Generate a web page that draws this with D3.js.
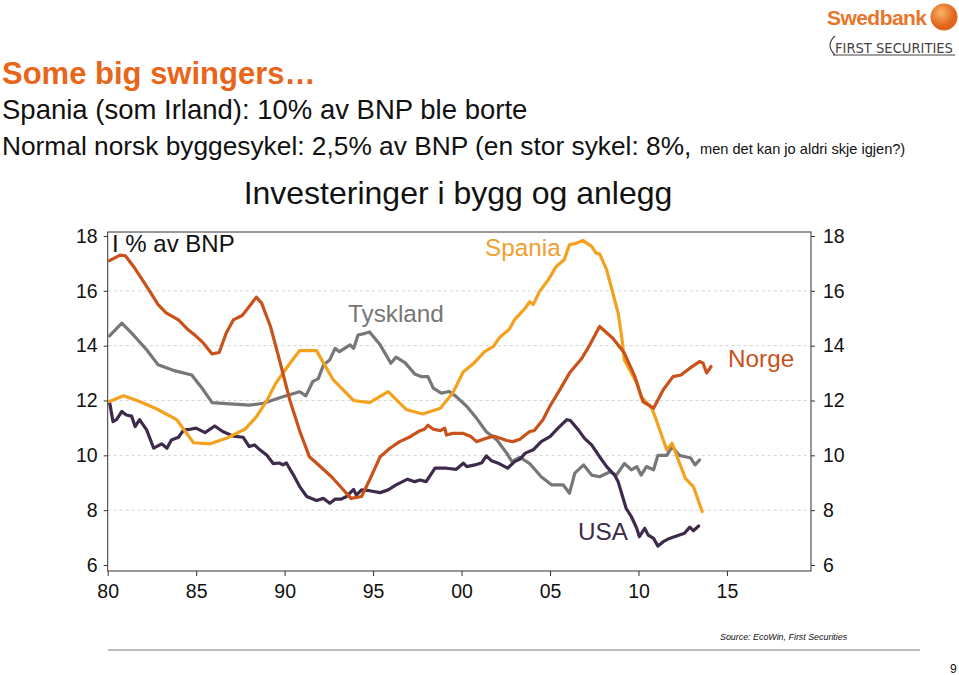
<!DOCTYPE html>
<html><head><meta charset="utf-8">
<script src="https://cdn.jsdelivr.net/npm/d3@7"></script>
<style>body{margin:0;background:#fff;}svg{display:block;font-family:"Liberation Sans",Arial,sans-serif;}</style>
</head><body>
<script>
// ---- data ----
const yTicks = [6, 8, 10, 12, 14, 16, 18];
const gridTicks = [8, 10, 12, 14, 16];
const xTickYears = [1980, 1985, 1990, 1995, 2000, 2005, 2010, 2015];
const xTickLabels = ["80", "85", "90", "95", "00", "05", "10", "15"];

const norge = [[1980.1,17.1],[1980.7,17.3],[1981.0,17.28],[1981.45,16.9],[1982.2,16.16],[1982.85,15.5],[1983.3,15.2],[1984,14.94],[1984.55,14.58],[1984.9,14.4],[1985.4,14.1],[1985.9,13.7],[1986.3,13.75],[1986.7,14.46],[1987.1,14.94],[1987.6,15.1],[1988,15.43],[1988.4,15.77],[1988.7,15.55],[1989.2,14.7],[1989.7,13.5],[1990.3,12.0],[1990.9,10.8],[1991.4,9.95],[1992,9.6],[1992.65,9.22],[1993.1,8.9],[1993.75,8.43],[1994.35,8.5],[1994.8,9.1],[1995.4,9.95],[1995.95,10.26],[1996.5,10.5],[1997.1,10.68],[1997.65,10.9],[1997.9,10.95],[1998.1,11.1],[1998.4,10.95],[1998.8,10.9],[1999.05,10.99],[1999.15,10.74],[1999.5,10.8],[2000.1,10.8],[2000.5,10.7],[2000.85,10.5],[2001.4,10.62],[2001.8,10.7],[2002.2,10.62],[2002.55,10.54],[2002.9,10.5],[2003.3,10.59],[2003.85,10.87],[2004.1,10.9],[2004.6,11.3],[2005,11.8],[2005.55,12.39],[2006.1,13.0],[2006.8,13.54],[2007.25,14.03],[2007.8,14.7],[2008.55,14.27],[2009.2,13.73],[2009.8,12.87],[2010.25,11.96],[2010.85,11.72],[2011.4,12.39],[2011.95,12.87],[2012.4,12.93],[2012.9,13.18],[2013.45,13.42],[2013.65,13.36],[2013.85,13.0],[2014.1,13.24]];

const spania = [[1980.1,11.96],[1980.9,12.17],[1981.8,11.96],[1982.75,11.7],[1983.9,11.3],[1984.85,10.46],[1985.8,10.42],[1986.7,10.62],[1987.75,10.95],[1988.4,11.4],[1989,12.0],[1989.5,12.63],[1990.3,13.36],[1990.85,13.82],[1991.8,13.82],[1992.75,12.75],[1993.9,12.0],[1994.8,11.92],[1995.85,12.32],[1996.9,11.66],[1997.8,11.51],[1998.8,11.72],[1999.5,12.27],[2000.1,13.05],[2000.65,13.33],[2001.3,13.78],[2001.8,13.97],[2002.15,14.3],[2002.7,14.6],[2003.0,14.95],[2003.6,15.37],[2003.85,15.6],[2004.05,15.5],[2004.4,15.97],[2004.9,16.4],[2005.35,16.89],[2005.8,17.13],[2006.1,17.68],[2006.5,17.74],[2006.85,17.84],[2007.35,17.62],[2007.6,17.38],[2007.8,17.35],[2008.2,16.77],[2008.55,15.92],[2008.85,15.19],[2009.05,14.33],[2009.2,13.48],[2009.4,13.24],[2009.9,12.63],[2010.15,12.14],[2010.75,11.72],[2011,11.3],[2011.4,10.56],[2011.6,10.2],[2011.9,10.44],[2012.25,9.83],[2012.65,9.16],[2013.1,8.86],[2013.6,7.95]];

const tyskland = [[1980.1,14.36],[1980.8,14.82],[1981.45,14.39],[1982.2,13.85],[1982.85,13.3],[1983.7,13.1],[1984.75,12.93],[1985.4,12.39],[1985.9,11.92],[1986.9,11.88],[1988,11.83],[1988.8,11.9],[1989.9,12.14],[1990.85,12.32],[1991.2,12.17],[1991.6,12.7],[1991.9,12.8],[1992.2,13.3],[1992.55,13.48],[1992.85,13.9],[1993.1,13.78],[1993.7,14.03],[1993.9,13.9],[1994.15,14.39],[1994.55,14.45],[1994.8,14.5],[1995.4,14.03],[1996,13.36],[1996.3,13.58],[1996.8,13.38],[1997.35,12.97],[1997.75,12.87],[1998.1,12.87],[1998.4,12.45],[1998.85,12.27],[1999.3,12.33],[1999.7,12.14],[2000.3,11.78],[2000.85,11.35],[2001.4,10.86],[2002,10.56],[2002.55,10.08],[2002.85,9.77],[2003.3,9.93],[2003.85,9.7],[2004.5,9.22],[2005.1,8.92],[2005.75,8.92],[2006.1,8.62],[2006.4,9.35],[2006.9,9.65],[2007.35,9.28],[2007.8,9.22],[2008.4,9.4],[2008.75,9.28],[2009.2,9.7],[2009.6,9.47],[2009.9,9.59],[2010.15,9.28],[2010.45,9.59],[2010.85,9.47],[2011.1,10.0],[2011.6,10.0],[2011.9,10.32],[2012.3,10.0],[2012.65,9.95],[2012.95,9.9],[2013.2,9.65],[2013.45,9.83]];

const usa = [[1980.1,11.96],[1980.3,11.23],[1980.5,11.3],[1980.8,11.6],[1981.05,11.47],[1981.35,11.43],[1981.55,11.05],[1981.8,11.3],[1982.2,10.93],[1982.6,10.26],[1983.05,10.42],[1983.35,10.26],[1983.6,10.56],[1984,10.66],[1984.3,10.93],[1984.65,10.95],[1985,10.99],[1985.5,10.83],[1986.05,11.07],[1986.5,10.87],[1987.1,10.7],[1987.65,10.66],[1988,10.32],[1988.3,10.38],[1988.6,10.2],[1989,10.0],[1989.35,9.7],[1989.7,9.72],[1989.9,9.65],[1990.1,9.72],[1990.5,9.28],[1990.85,8.86],[1991.25,8.5],[1991.8,8.35],[1992.2,8.43],[1992.55,8.25],[1992.85,8.4],[1993.2,8.4],[1993.5,8.5],[1993.9,8.76],[1994.05,8.55],[1994.35,8.74],[1994.8,8.71],[1995.4,8.64],[1995.85,8.74],[1996.3,8.92],[1996.95,9.13],[1997.35,9.04],[1997.65,9.1],[1998,9.04],[1998.5,9.53],[1999.15,9.53],[1999.7,9.49],[2000.1,9.71],[2000.3,9.59],[2000.75,9.65],[2001.15,9.73],[2001.4,9.98],[2001.7,9.8],[2002.15,9.69],[2002.6,9.53],[2003,9.77],[2003.3,9.86],[2003.6,10.08],[2004.05,10.2],[2004.5,10.5],[2005,10.68],[2005.45,10.99],[2005.95,11.3],[2006.15,11.27],[2006.6,10.93],[2006.95,10.62],[2007.35,10.38],[2007.8,9.95],[2008.2,9.59],[2008.65,9.28],[2008.85,9.04],[2009.1,8.5],[2009.3,8.07],[2009.6,7.76],[2009.9,7.34],[2010.05,7.03],[2010.35,7.34],[2010.55,7.09],[2010.85,6.97],[2011.1,6.69],[2011.4,6.85],[2011.75,6.97],[2012.15,7.06],[2012.6,7.16],[2012.9,7.38],[2013.1,7.25],[2013.4,7.42]];

const seriesNames = ["Norge", "Spania", "Tyskland", "USA"];
const seriesData = [norge, spania, tyskland, usa];
const seriesColors = ["#C9521B", "#F4A11E", "#777777", "#3E2B4C"];

// ---- drawing ----
const W = 959, H = 675;
const svg = d3.select("body").append("svg").attr("width", W).attr("height", H);

const x = d3.scaleLinear().domain([1980, 2019.75]).range([107.7, 811]);
const y = d3.scaleLinear().domain([6, 18]).range([565, 236]);
const frameTop = 232, frameBottom = 571;

// header texts
svg.append("text").attr("x", 2).attr("y", 84).attr("fill", "#E8651A")
  .attr("font-size", 31).attr("font-weight", "bold").text("Some big swingers…");
svg.append("text").attr("x", 2).attr("y", 119).attr("fill", "#111")
  .attr("font-size", 27.5).text("Spania (som Irland): 10% av BNP ble borte");
svg.append("text").attr("x", 2).attr("y", 155).attr("fill", "#111").attr("font-size", 26.3)
  .text("Normal norsk byggesykel: 2,5% av BNP (en stor sykel: 8%,");
svg.append("text").attr("x", 700).attr("y", 154).attr("fill", "#111").attr("font-size", 14.6)
  .text("men det kan jo aldri skje igjen?)");

// logo
const logo = svg.append("g");
logo.append("text").attr("x", 827).attr("y", 25).attr("fill", "#E8762A")
  .attr("font-size", 21).attr("font-weight", "bold").attr("textLength", 100).text("Swedbank");
const grad = svg.append("defs").append("radialGradient").attr("id", "lg").attr("cx", "40%").attr("cy", "35%");
grad.append("stop").attr("offset", "0%").attr("stop-color", "#F9B46A");
grad.append("stop").attr("offset", "100%").attr("stop-color", "#E0651A");
logo.append("circle").attr("cx", 944).attr("cy", 17).attr("r", 13.5).attr("fill", "url(#lg)");
const fs = logo.append("text").attr("x", 835).attr("y", 53).attr("fill", "#444")
  .attr("font-size", 18).attr("font-family", "'Liberation Sans Narrow','DejaVu Sans Condensed',sans-serif")
  .text("FIRST SECURITIES");
const natW = fs.node().getComputedTextLength();
fs.attr("font-size", Math.min(18, 18 * 118 / natW));
logo.append("path").attr("d", "M835,36 Q825,45 835,55").attr("fill", "none").attr("stroke", "#444").attr("stroke-width", 1.2);
logo.append("line").attr("x1", 833).attr("x2", 955).attr("y1", 55).attr("y2", 55).attr("stroke", "#444").attr("stroke-width", 1);

// chart title
svg.append("text").attr("x", 458).attr("y", 204).attr("text-anchor", "middle").attr("fill", "#111")
  .attr("font-size", 32).text("Investeringer i bygg og anlegg");

// gridlines
svg.append("g").selectAll("line").data(gridTicks).join("line")
  .attr("x1", x.range()[0]).attr("x2", x.range()[1])
  .attr("y1", d => y(d)).attr("y2", d => y(d))
  .attr("stroke", "#d4d4d4").attr("stroke-width", 1).attr("stroke-dasharray", "3,3");

// frame
svg.append("rect").attr("x", x.range()[0]).attr("y", frameTop)
  .attr("width", x.range()[1] - x.range()[0]).attr("height", frameBottom - frameTop)
  .attr("fill", "none").attr("stroke", "#333").attr("stroke-width", 1);

// left axis
const yLeft = svg.append("g").attr("transform", `translate(${x.range()[0]},0)`)
  .call(d3.axisLeft(y).tickValues(yTicks).tickSize(4).tickPadding(6).tickFormat(d3.format("d")));
yLeft.select(".domain").remove();
yLeft.selectAll("text").attr("font-size", 19.5).attr("fill", "#111").attr("font-family", "'Liberation Sans',Arial,sans-serif");
yLeft.selectAll("line").attr("stroke", "#333");

// right axis
const yRight = svg.append("g").attr("transform", `translate(${x.range()[1]},0)`)
  .call(d3.axisRight(y).tickValues(yTicks).tickSize(4).tickPadding(8).tickFormat(d3.format("d")));
yRight.select(".domain").remove();
yRight.selectAll("text").attr("font-size", 19.5).attr("fill", "#111").attr("font-family", "'Liberation Sans',Arial,sans-serif");
yRight.selectAll("line").attr("stroke", "#333");

// bottom axis
const xAx = svg.append("g").attr("transform", `translate(0,${frameBottom})`)
  .call(d3.axisBottom(x).tickValues(xTickYears).tickSize(5).tickPadding(8)
    .tickFormat((d, i) => xTickLabels[i]));
xAx.select(".domain").remove();
xAx.selectAll("text").attr("font-size", 19.5).attr("fill", "#111").attr("font-family", "'Liberation Sans',Arial,sans-serif");
xAx.selectAll("line").attr("stroke", "#333");

// series lines
const line = d3.line().x(d => x(d[0])).y(d => y(d[1]));
const order = [2, 3, 1, 0];
svg.append("g").selectAll("path").data(order).join("path")
  .attr("d", i => line(seriesData[i]))
  .attr("fill", "none").attr("stroke", i => seriesColors[i])
  .attr("stroke-width", 3.2).attr("stroke-linejoin", "round").attr("stroke-linecap", "round");

// series labels
const labelPos = [[728, 367], [485, 256], [348, 322], [578, 540]];
svg.append("g").selectAll("text").data(seriesNames).join("text")
  .attr("x", (d, i) => labelPos[i][0]).attr("y", (d, i) => labelPos[i][1])
  .attr("fill", (d, i) => seriesColors[i] === "#F4A11E" ? "#F0A030" : seriesColors[i])
  .attr("font-size", 24.3).text(d => d);

svg.append("text").attr("x", 112).attr("y", 252).attr("fill", "#111").attr("font-size", 24).text("I % av BNP");

// footer
svg.append("text").attr("x", 720).attr("y", 640).attr("fill", "#111").attr("font-size", 8.9)
  .attr("font-style", "italic").text("Source: EcoWin, First Securities");
svg.append("line").attr("x1", 108).attr("x2", 920).attr("y1", 650).attr("y2", 650)
  .attr("stroke", "#777").attr("stroke-width", 1);
svg.append("text").attr("x", 950).attr("y", 673).attr("fill", "#111").attr("font-size", 12).text("9");
</script>
</body></html>
